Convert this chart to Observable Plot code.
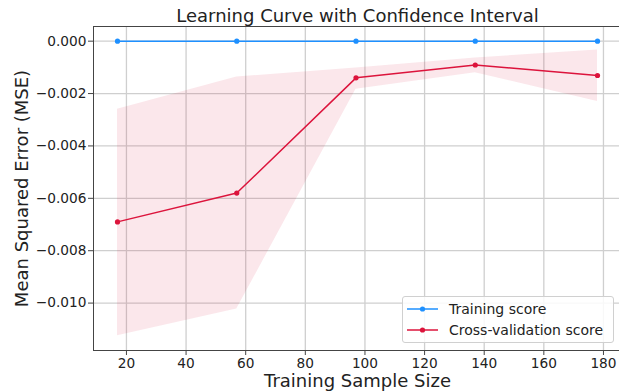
<!DOCTYPE html>
<html>
<head>
<meta charset="utf-8">
<script src="https://cdn.jsdelivr.net/npm/d3@7"></script>
<script src="https://cdn.jsdelivr.net/npm/@observablehq/plot@0.6"></script>
<style>
  body { margin: 0; background: #fff; font-family: "DejaVu Sans", sans-serif; }
  #wrap { position: relative; width: 619px; height: 392px; overflow: hidden; }
  #legend { position: absolute; left: 402px; top: 296px; width: 210px; height: 45px;
    border: 1px solid #d0d0d0; border-radius: 3px; background: rgba(255,255,255,0.85);
    font-family: "DejaVu Sans", sans-serif; font-size: 14px; color: #222; }
  .row { position: absolute; left: 0; height: 20px; display: flex; align-items: center; }
  .row svg { margin-left: 3px; }
  .row span { margin-left: 11px; white-space: nowrap; }
</style>
</head>
<body>
<div id="wrap"></div>
<script>
const trainSizes = [17, 57, 97, 137, 178];
const trainMean = [0, 0, 0, 0, 0];
const cvMean = [-0.0069, -0.0058, -0.0014, -0.00091, -0.00131];
const cvUpper = [-0.0026, -0.00137, -0.00102, -0.00064, -0.00034];
const cvLower = [-0.01125, -0.01023, -0.00184, -0.00121, -0.0023];
const xTicks = [20, 40, 60, 80, 100, 120, 140, 160, 180];
const yTicks = [0, -0.002, -0.004, -0.006, -0.008, -0.010];
const titleText = "Learning Curve with Confidence Interval";
const xLabel = "Training Sample Size";
const yLabel = "Mean Squared Error (MSE)";
const seriesNames = ["Training score", "Cross-validation score"];
const seriesColors = ["#1e90ff", "#dc143c"];

const train = trainSizes.map((x, i) => ({x, y: trainMean[i]}));
const cv = trainSizes.map((x, i) => ({x, y: cvMean[i], lo: cvLower[i], hi: cvUpper[i]}));

const chart = Plot.plot({
  width: 619,
  height: 392,
  marginTop: 26,
  marginBottom: 42,
  marginLeft: 93,
  marginRight: -2,
  style: {fontFamily: "DejaVu Sans, sans-serif", color: "#222", background: "#fff", overflow: "visible"},
  x: {domain: [8.95, 186.05]},
  y: {domain: [-0.01181, 0.00056]},
  marks: [
    Plot.gridX(xTicks, {stroke: "#cfcfcf", strokeOpacity: 1, strokeWidth: 1.3}),
    Plot.gridY(yTicks, {stroke: "#cfcfcf", strokeOpacity: 1, strokeWidth: 1.3}),
    Plot.areaY(cv, {x: "x", y1: "lo", y2: "hi", fill: seriesColors[1], fillOpacity: 0.1}),
    Plot.line(train, {x: "x", y: "y", stroke: seriesColors[0], strokeWidth: 1.5}),
    Plot.dot(train, {x: "x", y: "y", fill: seriesColors[0], r: 2.6}),
    Plot.line(cv, {x: "x", y: "y", stroke: seriesColors[1], strokeWidth: 1.5}),
    Plot.dot(cv, {x: "x", y: "y", fill: seriesColors[1], r: 2.6}),
    Plot.frame({stroke: "#444", strokeWidth: 1}),
    Plot.axisX(xTicks, {tickSize: 5, tickPadding: 3, fontSize: 13.7, label: null, stroke: "#444"}),
    Plot.axisY(yTicks, {tickSize: 5, tickPadding: 2, fontSize: 13.7, label: null, stroke: "#444",
      tickFormat: d3.format(".3f")}),
    Plot.text([titleText], {frameAnchor: "top", dy: -10, lineAnchor: "middle", textAnchor: "middle", fontSize: 18, fill: "#222"}),
    Plot.text([xLabel], {frameAnchor: "bottom", dy: 31, lineAnchor: "middle", textAnchor: "middle", fontSize: 18, fill: "#222"}),
    Plot.text([yLabel], {frameAnchor: "left", dx: -71, rotate: -90, lineAnchor: "middle", textAnchor: "middle", fontSize: 18, fill: "#222"})
  ]
});
const wrap = document.getElementById("wrap");
wrap.appendChild(chart);

const legend = document.createElement("div");
legend.id = "legend";
seriesNames.forEach((name, i) => {
  const row = document.createElement("div");
  row.className = "row";
  row.style.top = (i === 0 ? 2 : 23) + "px";
  row.innerHTML = `<svg width="32" height="10"><line x1="1" y1="5" x2="32" y2="5" stroke="${seriesColors[i]}" stroke-width="1.5"/><circle cx="16.5" cy="5" r="2.6" fill="${seriesColors[i]}"/></svg><span>${name}</span>`;
  legend.appendChild(row);
});
wrap.appendChild(legend);
</script>
</body>
</html>
